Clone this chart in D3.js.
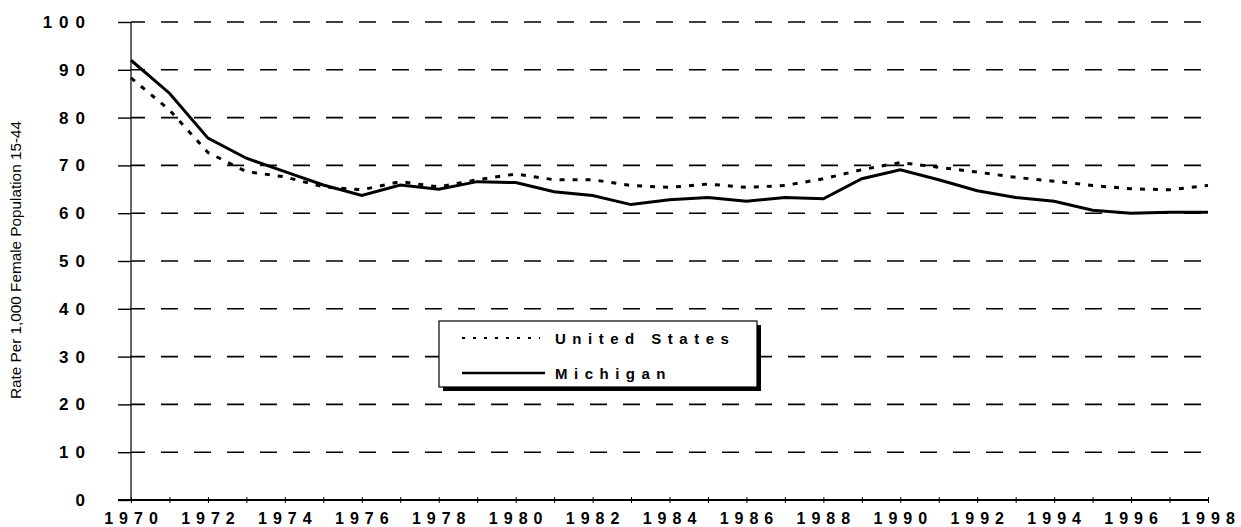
<!DOCTYPE html>
<html>
<head>
<meta charset="utf-8">
<script src="https://cdn.jsdelivr.net/npm/d3@7"></script>
<style>
  body { margin: 0; background: #fff; }
  svg { display: block; }
</style>
</head>
<body>
<svg width="1241" height="527"></svg>
<script>
const width = 1241;
const height = 527;

const years = [1970, 1971, 1972, 1973, 1974, 1975, 1976, 1977, 1978, 1979,
               1980, 1981, 1982, 1983, 1984, 1985, 1986, 1987, 1988, 1989,
               1990, 1991, 1992, 1993, 1994, 1995, 1996, 1997, 1998];
const michigan = [92.0, 85.1, 75.7, 71.5, 68.7, 65.9, 63.7, 65.9, 65.0, 66.6,
                  66.4, 64.5, 63.7, 61.8, 62.8, 63.3, 62.5, 63.3, 63.0, 67.2,
                  69.1, 67.0, 64.7, 63.3, 62.5, 60.6, 60.0, 60.2, 60.2];
const unitedStates = [88.3, 81.6, 72.7, 68.7, 67.6, 65.5, 64.9, 66.6, 65.5, 67.0,
                      68.2, 67.0, 67.0, 65.8, 65.4, 66.1, 65.4, 65.8, 67.2, 69.1,
                      70.6, 69.6, 68.6, 67.5, 66.7, 65.8, 65.1, 64.9, 65.8];
const xTickLabels = [1970, 1972, 1974, 1976, 1978, 1980, 1982, 1984, 1986, 1988,
                     1990, 1992, 1994, 1996, 1998];
const yTicks = [0, 10, 20, 30, 40, 50, 60, 70, 80, 90, 100];
const seriesNames = ["United States", "Michigan"];
const yTitle = "Rate Per 1,000 Female Population 15-44";

const plotLeft = 131, plotRight = 1208, plotTop = 22, plotBottom = 500;
const font = 'Liberation Sans, Arial, sans-serif';

const xScale = d3.scaleLinear().domain([1970, 1998]).range([plotLeft, plotRight]);
const yScale = d3.scaleLinear().domain([0, 100]).range([plotBottom, plotTop]);

const svg = d3.select('svg');

// dashed gridlines
svg.append('g')
    .selectAll('line')
    .data(yTicks.filter(d => d > 0))
    .enter()
    .append('line')
        .attr('x1', plotLeft)
        .attr('x2', plotRight)
        .attr('y1', d => yScale(d))
        .attr('y2', d => yScale(d))
        .attr('stroke', '#000')
        .attr('stroke-width', 1.6)
        .attr('stroke-dasharray', '17,16')
        .attr('stroke-dashoffset', 3)

// y axis
const yAxis = d3.axisLeft(yScale)
                    .tickValues(yTicks)
                    .tickSize(13)
                    .tickFormat('')
const yg = svg.append('g')
    .attr('transform', 'translate(' + plotLeft + ',0)')
    .call(yAxis)
yg.select('.domain').remove()
yg.selectAll('.tick line').attr('stroke', '#000').attr('stroke-width', 1.4)
svg.append('line')
    .attr('x1', plotLeft).attr('x2', plotLeft)
    .attr('y1', yScale(100)).attr('y2', yScale(0))
    .attr('stroke', '#000')
    .attr('stroke-width', 1.2)

svg.append('g')
    .selectAll('text')
    .data(yTicks)
    .enter()
    .append('text')
        .text(d => d)
        .attr('x', 92)
        .attr('y', d => yScale(d) + 6)
        .attr('text-anchor', 'end')
        .attr('font-family', font)
        .attr('font-weight', 'bold')
        .attr('font-size', '17px')
        .attr('letter-spacing', '7px')

// x axis
const xAxis = d3.axisBottom(xScale)
                    .tickValues(years)
                    .tickSize(3)
                    .tickSizeOuter(0)
                    .tickFormat('')
const xg = svg.append('g')
    .attr('transform', 'translate(0,' + plotBottom + ')')
    .call(xAxis)
xg.select('.domain').remove()
xg.selectAll('.tick line').attr('y1', -3).attr('stroke', '#000')
svg.append('line')
    .attr('x1', plotLeft - 13).attr('x2', plotRight)
    .attr('y1', plotBottom).attr('y2', plotBottom)
    .attr('stroke', '#000')
    .attr('stroke-width', 2)

svg.append('g')
    .selectAll('text')
    .data(xTickLabels)
    .enter()
    .append('text')
        .text(d => d)
        .attr('x', d => xScale(d) + 3)
        .attr('y', 524)
        .attr('text-anchor', 'middle')
        .attr('font-family', font)
        .attr('font-weight', 'bold')
        .attr('font-size', '16px')
        .attr('letter-spacing', '6px')

// y title
svg.append('text')
    .text(yTitle)
    .attr('transform', 'translate(21,260) rotate(-90)')
    .attr('text-anchor', 'middle')
    .attr('font-family', font)
    .attr('font-size', '14px')
    .attr('textLength', 278)
    .attr('lengthAdjust', 'spacingAndGlyphs')

// lines
const line = d3.line()
                .x((d, i) => xScale(years[i]))
                .y(d => yScale(d))

svg.append('path')
    .datum(unitedStates)
    .attr('d', line)
    .attr('fill', 'none')
    .attr('stroke', '#000')
    .attr('stroke-width', 3)
    .attr('stroke-dasharray', '5,8')

svg.append('path')
    .datum(michigan)
    .attr('d', line)
    .attr('fill', 'none')
    .attr('stroke', '#000')
    .attr('stroke-width', 3)

// legend
const legend = svg.append('g').attr('transform', 'translate(439,321)')
legend.append('rect')
    .attr('x', 4).attr('y', 4)
    .attr('width', 318).attr('height', 66)
    .attr('fill', '#000')
legend.append('rect')
    .attr('x', 0).attr('y', 0)
    .attr('width', 318).attr('height', 66)
    .attr('fill', '#fff')
    .attr('stroke', '#000')
    .attr('stroke-width', 1.2)

legend.selectAll('.item')
    .data(seriesNames)
    .enter()
    .append('g')
        .classed('item', true)
        .attr('transform', (d, i) => 'translate(0,' + (17 + i * 35) + ')')
    .each(function(d, i) {
        const g = d3.select(this)
        g.append('line')
            .attr('x1', 23).attr('x2', i === 0 ? 101 : 106)
            .attr('y1', 0).attr('y2', 0)
            .attr('stroke', '#000')
            .attr('stroke-width', i === 0 ? 2.2 : 2.5)
            .attr('stroke-dasharray', i === 0 ? '3,8' : null)
        g.append('text')
            .text(d)
            .attr('x', 116)
            .attr('y', 6)
            .attr('font-family', font)
            .attr('font-weight', 'bold')
            .attr('font-size', '15px')
            .attr('letter-spacing', '6.5px')
    })
</script>
</body>
</html>
